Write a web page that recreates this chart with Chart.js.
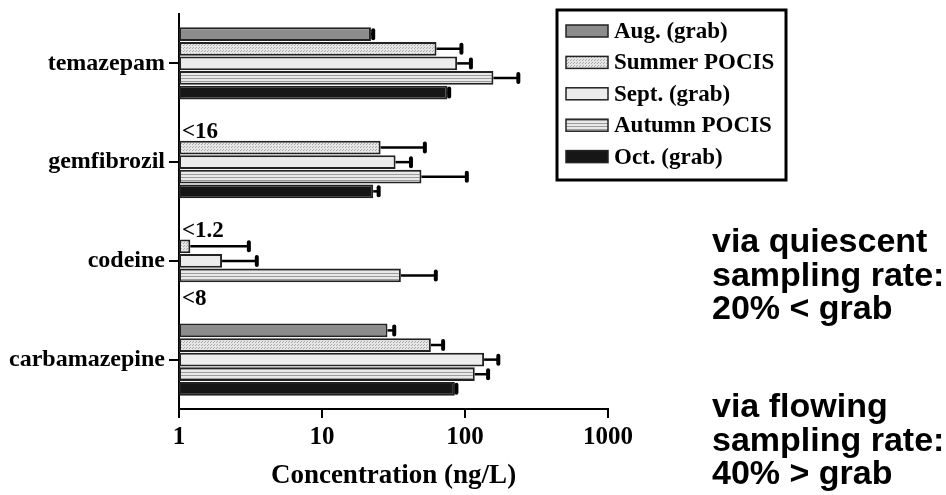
<!DOCTYPE html>
<html>
<head>
<meta charset="utf-8">
<script src="https://cdn.jsdelivr.net/npm/chart.js@4.4.1/dist/chart.umd.min.js"></script>
<style>
    html, body { margin: 0; padding: 0; background: #fff; }
    #wrap { position: relative; width: 946px; height: 495px; }
    .note {
        position: absolute;
        left: 712px;
        font: bold 34px "Liberation Sans", Arial, sans-serif;
        line-height: 33.5px;
        color: #000;
        white-space: nowrap;
    }
</style>
</head>
<body>
<div id="wrap">
    <canvas id="chart"></canvas>
    <div class="note" style="top:224px">via quiescent<br>sampling rate:<br>20% &lt; grab</div>
    <div class="note" style="top:389px">via flowing<br>sampling rate:<br>40% &gt; grab</div>
</div>
<script>
// categorias e séries (ng/L)
const compounds = ['temazepam', 'gemfibrozil', 'codeine', 'carbamazepine'];
const seriesNames = ['Aug. (grab)', 'Summer POCIS', 'Sept. (grab)', 'Autumn POCIS', 'Oct. (grab)'];

const augGrab = [22.0, null, null, 28.7];
const summerPocis = [63.2, 25.7, 1.2, 57.7];
const septGrab = [88.1, 32.7, 2.0, 136];
const autumnPocis = [158, 49.6, 35.6, 117];
const octGrab = [75.4, 22.8, null, 84.9];

// topo das barras de erro
const augGrabHigh = [22.8, null, null, 32];
const summerPocisHigh = [94.4, 52.4, 3.08, 70.3];
const septGrabHigh = [110, 41.9, 3.5, 171];
const autumnPocisHigh = [236, 103, 62.5, 145];
const octGrabHigh = [77.5, 24.9, null, 87.1];

// limites de detecção mostrados no lugar das barras ausentes
const augLimits = [null, '<16', '<1.2', null];
const octLimits = [null, null, '<8', null];

const xTicks = [1, 10, 100, 1000];

const serif = '"Liberation Serif", "Times New Roman", serif';

function solid(color) { return color; }

function dotPattern() {
    const c = document.createElement('canvas');
    c.width = 3; c.height = 3;
    const g = c.getContext('2d');
    g.fillStyle = '#e6e6e6';
    g.fillRect(0, 0, 3, 3);
    g.fillStyle = '#a9a9a9';
    g.fillRect(0, 0, 1, 1);
    g.fillRect(1, 2, 1, 1);
    return g.createPattern(c, 'repeat');
}

function stripePattern() {
    const c = document.createElement('canvas');
    c.width = 4; c.height = 3;
    const g = c.getContext('2d');
    g.fillStyle = '#e8e8e8';
    g.fillRect(0, 0, 4, 3);
    g.fillStyle = '#9c9c9c';
    g.fillRect(0, 0, 4, 1);
    return g.createPattern(c, 'repeat');
}

const fills = [solid('#8c8c8c'), dotPattern(), solid('#ececec'), stripePattern(), solid('#161616')];
const values = [augGrab, summerPocis, septGrab, autumnPocis, octGrab];
const highs = [augGrabHigh, summerPocisHigh, septGrabHigh, autumnPocisHigh, octGrabHigh];

// barras de erro (só lado superior)
const errorBars = {
    id: 'errorBars',
    afterDatasetsDraw(chart) {
        const ctx = chart.ctx;
        const xScale = chart.scales.x;
        ctx.save();
        ctx.strokeStyle = '#000';
        chart.data.datasets.forEach((ds, i) => {
            const meta = chart.getDatasetMeta(i);
            ds.errHigh.forEach((hi, j) => {
                if (hi == null || ds.data[j] == null) return;
                const bar = meta.data[j];
                const x2 = xScale.getPixelForValue(hi);
                ctx.lineCap = 'butt';
                ctx.lineWidth = 2.5;
                ctx.beginPath();
                ctx.moveTo(bar.x, bar.y);
                ctx.lineTo(x2, bar.y);
                ctx.stroke();
                ctx.lineCap = 'round';
                ctx.lineWidth = 4;
                ctx.beginPath();
                ctx.moveTo(x2, bar.y - 4);
                ctx.lineTo(x2, bar.y + 4);
                ctx.stroke();
            });
        });
        ctx.restore();
    }
};

// textos "<LD" onde não há barra
const limitLabels = {
    id: 'limitLabels',
    afterDatasetsDraw(chart) {
        const ctx = chart.ctx;
        const left = chart.chartArea.left;
        ctx.save();
        ctx.fillStyle = '#000';
        ctx.font = 'bold 23px ' + serif;
        ctx.textAlign = 'left';
        ctx.textBaseline = 'alphabetic';
        const aug = chart.getDatasetMeta(0);
        const oct = chart.getDatasetMeta(4);
        augLimits.forEach((t, j) => {
            if (t) ctx.fillText(t, left + 3, aug.data[j].y + 5);
        });
        octLimits.forEach((t, j) => {
            if (t) ctx.fillText(t, left + 3, oct.data[j].y + 15);
        });
        ctx.restore();
    }
};

// legenda com moldura
const legendBox = {
    id: 'legendBox',
    afterDraw(chart) {
        const ctx = chart.ctx;
        ctx.save();
        ctx.lineWidth = 3;
        ctx.strokeStyle = '#000';
        ctx.strokeRect(557, 10, 229, 170);
        ctx.font = 'bold 23px ' + serif;
        ctx.textBaseline = 'middle';
        ctx.textAlign = 'left';
        chart.data.datasets.forEach((ds, i) => {
            const y = 31 + i * 31.4;
            ctx.fillStyle = ds.backgroundColor;
            ctx.fillRect(566, y - 6, 42, 12);
            ctx.lineWidth = 1.5;
            ctx.strokeStyle = '#222';
            ctx.strokeRect(566, y - 6, 42, 12);
            ctx.fillStyle = '#000';
            ctx.fillText(ds.label, 614, y + 1);
        });
        ctx.restore();
    }
};

const ctx = document.getElementById('chart').getContext('2d');
new Chart(ctx, {
    type: 'bar',
    data: {
        labels: compounds,
        datasets: seriesNames.map((name, i) => ({
            label: name,
            data: values[i],
            errHigh: highs[i],
            backgroundColor: fills[i],
            borderColor: '#222',
            borderWidth: 2,
            borderSkipped: false,
            barPercentage: 0.94,
            categoryPercentage: 0.74
        }))
    },
    options: {
        indexAxis: 'y',
        responsive: true,
        maintainAspectRatio: false,
        animation: false,
        layout: { padding: { left: 0, right: 338, top: 14, bottom: 0 } },
        plugins: {
            legend: { display: false },
            tooltip: { enabled: false }
        },
        scales: {
            x: {
                type: 'logarithmic',
                min: 1,
                max: 1000,
                afterBuildTicks: s => { s.ticks = xTicks.map(v => ({ value: v })); },
                afterFit: s => { s.height = 86; },
                ticks: {
                    callback: v => String(v),
                    color: '#000',
                    font: { family: serif, weight: 'bold', size: 25 },
                    padding: 5,
                    maxRotation: 0,
                    autoSkip: false
                },
                grid: { drawOnChartArea: false, tickLength: 9, lineWidth: 2, color: '#000' },
                border: { display: true, color: '#000', width: 2 },
                title: {
                    display: true,
                    text: 'Concentration (ng/L)',
                    color: '#000',
                    font: { family: serif, weight: 'bold', size: 27 },
                    padding: { top: 0, bottom: 3 }
                }
            },
            y: {
                afterFit: s => {
                    s.width = 179;
                    s.paddingTop = 0;
                    s.paddingBottom = 0;
                },
                ticks: {
                    color: '#000',
                    font: { family: serif, weight: 'bold', size: 24 },
                    padding: 4
                },
                grid: { drawOnChartArea: false, offset: false, tickLength: 10, lineWidth: 2, color: '#000' },
                border: { display: true, color: '#000', width: 2 }
            }
        }
    },
    plugins: [errorBars, limitLabels, legendBox]
});
</script>
</body>
</html>
